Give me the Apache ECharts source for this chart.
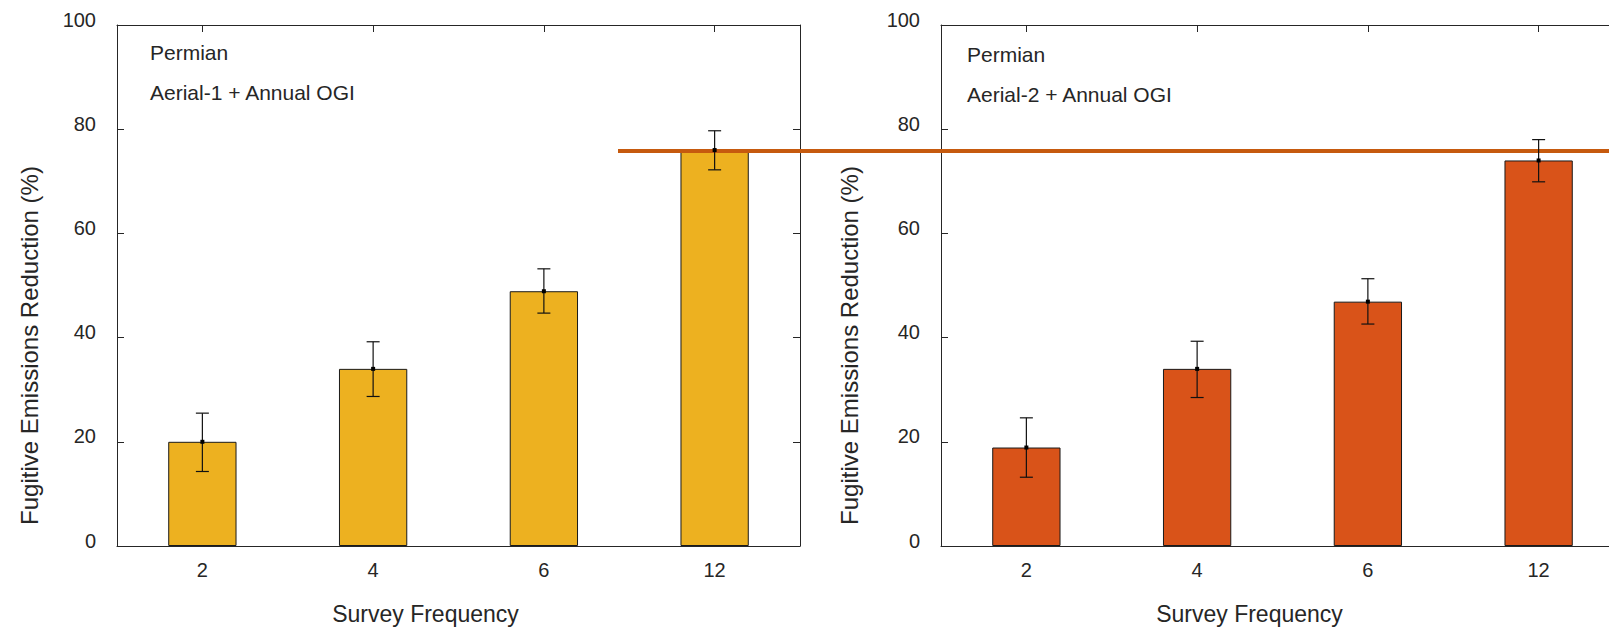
<!DOCTYPE html>
<html>
<head>
<meta charset="utf-8">
<style>
  html, body { margin: 0; padding: 0; background: #ffffff; }
  #chart { width: 1609px; height: 627px; }
</style>
<script src="https://cdn.jsdelivr.net/npm/echarts@6/dist/echarts.min.js"></script>
</head>
<body>
<div id="chart"></div>
<script>
// ---- data ----
const categories = ['2', '4', '6', '12'];
const aerial1Mean = [20, 34, 48.9, 76];
const aerial1Low  = [14.3, 28.7, 44.7, 72.2];
const aerial1High = [25.5, 39.2, 53.2, 79.7];
const aerial2Mean = [18.9, 34, 46.9, 74];
const aerial2Low  = [13.2, 28.5, 42.6, 69.9];
const aerial2High = [24.6, 39.3, 51.3, 78.0];
const yTickValues = [0, 20, 40, 60, 80, 100];
const referenceLevel = 75.8;
const panelTitles = [['Permian', 'Aerial-1 + Annual OGI'], ['Permian', 'Aerial-2 + Annual OGI']];
const xName = 'Survey Frequency';
const yName = 'Fugitive Emissions Reduction (%)';

// ---- styling ----
const FONT = '"Liberation Sans", Arial, Helvetica, sans-serif';
const INK = '#262626';
const barColors = ['#EDB120', '#D95319'];
const refColor = '#c65a0e';

function errorData(low, high, mean) {
  return categories.map((c, i) => [i, low[i], high[i], mean[i]]);
}

function renderError(params, api) {
  const i = api.value(0);
  const lo = api.coord([i, api.value(1)]);
  const hi = api.coord([i, api.value(2)]);
  const mid = api.coord([i, api.value(3)]);
  const cap = 6.5;
  const st = { stroke: '#111111', lineWidth: 1.2 };
  return {
    type: 'group',
    children: [
      { type: 'line', shape: { x1: lo[0], y1: lo[1], x2: hi[0], y2: hi[1] }, style: st },
      { type: 'line', shape: { x1: hi[0] - cap, y1: hi[1], x2: hi[0] + cap, y2: hi[1] }, style: st },
      { type: 'line', shape: { x1: lo[0] - cap, y1: lo[1], x2: lo[0] + cap, y2: lo[1] }, style: st },
      { type: 'rect', shape: { x: mid[0] - 2, y: mid[1] - 2, width: 4, height: 4 }, style: { fill: '#000000' } }
    ]
  };
}

const grids = [
  { left: 117, top: 25, width: 683, height: 521, containLabel: false, outerBoundsMode: 'none' },
  { left: 941, top: 25, width: 683, height: 521, containLabel: false, outerBoundsMode: 'none' },
  { left: 618, top: 25, width: 1000, height: 521, containLabel: false, outerBoundsMode: 'none' }
];

const xAxes = [];
const yAxes = [];
[0, 1].forEach(g => {
  xAxes.push({
    type: 'category', gridIndex: g, data: categories, position: 'bottom',
    name: xName, nameLocation: 'middle', nameGap: 56,
    nameTextStyle: { fontFamily: FONT, fontSize: 23, color: INK, padding: [0, 66, 0, 0] },
    axisLine: { show: true, lineStyle: { color: INK, width: 1 } },
    axisTick: { show: true, inside: true, alignWithLabel: true, length: 7, lineStyle: { color: INK } },
    axisLabel: { fontFamily: FONT, fontSize: 20, color: INK, margin: 14 },
    splitLine: { show: false }
  });
  xAxes.push({
    type: 'category', gridIndex: g, data: categories, position: 'top',
    axisLine: { show: true, onZero: false, lineStyle: { color: INK, width: 1 } },
    axisTick: { show: true, inside: true, alignWithLabel: true, length: 7, lineStyle: { color: INK } },
    axisLabel: { show: false },
    splitLine: { show: false }
  });
  yAxes.push({
    type: 'value', gridIndex: g, min: yTickValues[0], max: yTickValues[yTickValues.length - 1], interval: 20,
    position: 'left',
    name: yName, nameLocation: 'middle', nameGap: g === 0 ? 76 : 80, nameRotate: 90,
    nameTextStyle: { fontFamily: FONT, fontSize: 24, color: INK, padding: [0, 120, 0, 0] },
    axisLine: { show: true, lineStyle: { color: INK, width: 1 } },
    axisTick: { show: true, inside: true, length: 7, lineStyle: { color: INK } },
    axisLabel: { fontFamily: FONT, fontSize: 20, color: INK, margin: 21, verticalAlign: 'bottom', lineHeight: 11 },
    splitLine: { show: false }
  });
  yAxes.push({
    type: 'value', gridIndex: g, min: yTickValues[0], max: yTickValues[yTickValues.length - 1], interval: 20,
    position: 'right',
    axisLine: { show: true, lineStyle: { color: INK, width: 1 } },
    axisTick: { show: true, inside: true, length: 7, lineStyle: { color: INK } },
    axisLabel: { show: false },
    splitLine: { show: false }
  });
});
// overlay grid for the reference line
xAxes.push({ type: 'value', gridIndex: 2, min: 0, max: 1, show: false });
yAxes.push({ type: 'value', gridIndex: 2, min: 0, max: 100, show: false });

const series = [
  {
    type: 'bar', xAxisIndex: 0, yAxisIndex: 0, data: aerial1Mean, barWidth: '40%', z: 2,
    itemStyle: { color: barColors[0], borderColor: '#1a1a1a', borderWidth: 1 }
  },
  {
    type: 'bar', xAxisIndex: 2, yAxisIndex: 2, data: aerial2Mean, barWidth: '40%', z: 2,
    itemStyle: { color: barColors[1], borderColor: '#1a1a1a', borderWidth: 1 }
  },
  {
    type: 'line', xAxisIndex: 4, yAxisIndex: 4, z: 3, symbol: 'none', silent: true,
    data: [[0, referenceLevel], [1, referenceLevel]],
    lineStyle: { color: refColor, width: 4 }
  },
  {
    type: 'custom', xAxisIndex: 0, yAxisIndex: 0, z: 4, renderItem: renderError,
    data: errorData(aerial1Low, aerial1High, aerial1Mean)
  },
  {
    type: 'custom', xAxisIndex: 2, yAxisIndex: 2, z: 4, renderItem: renderError,
    data: errorData(aerial2Low, aerial2High, aerial2Mean)
  }
];

const graphic = [];
const titlePos = [{ x: 150, y1: 52, y2: 92 }, { x: 967, y1: 54, y2: 94 }];
panelTitles.forEach((t, k) => {
  graphic.push({ type: 'text', x: titlePos[k].x, y: titlePos[k].y1, z: 10,
    style: { text: t[0], fill: INK, font: '21px ' + FONT, verticalAlign: 'middle' } });
  graphic.push({ type: 'text', x: titlePos[k].x, y: titlePos[k].y2, z: 10,
    style: { text: t[1], fill: INK, font: '21px ' + FONT, verticalAlign: 'middle' } });
});

const chart = echarts.init(document.getElementById('chart'), null, { renderer: 'svg' });
chart.setOption({
  backgroundColor: '#ffffff',
  animation: false,
  grid: grids,
  xAxis: xAxes,
  yAxis: yAxes,
  series: series,
  graphic: graphic
});
</script>
</body>
</html>
